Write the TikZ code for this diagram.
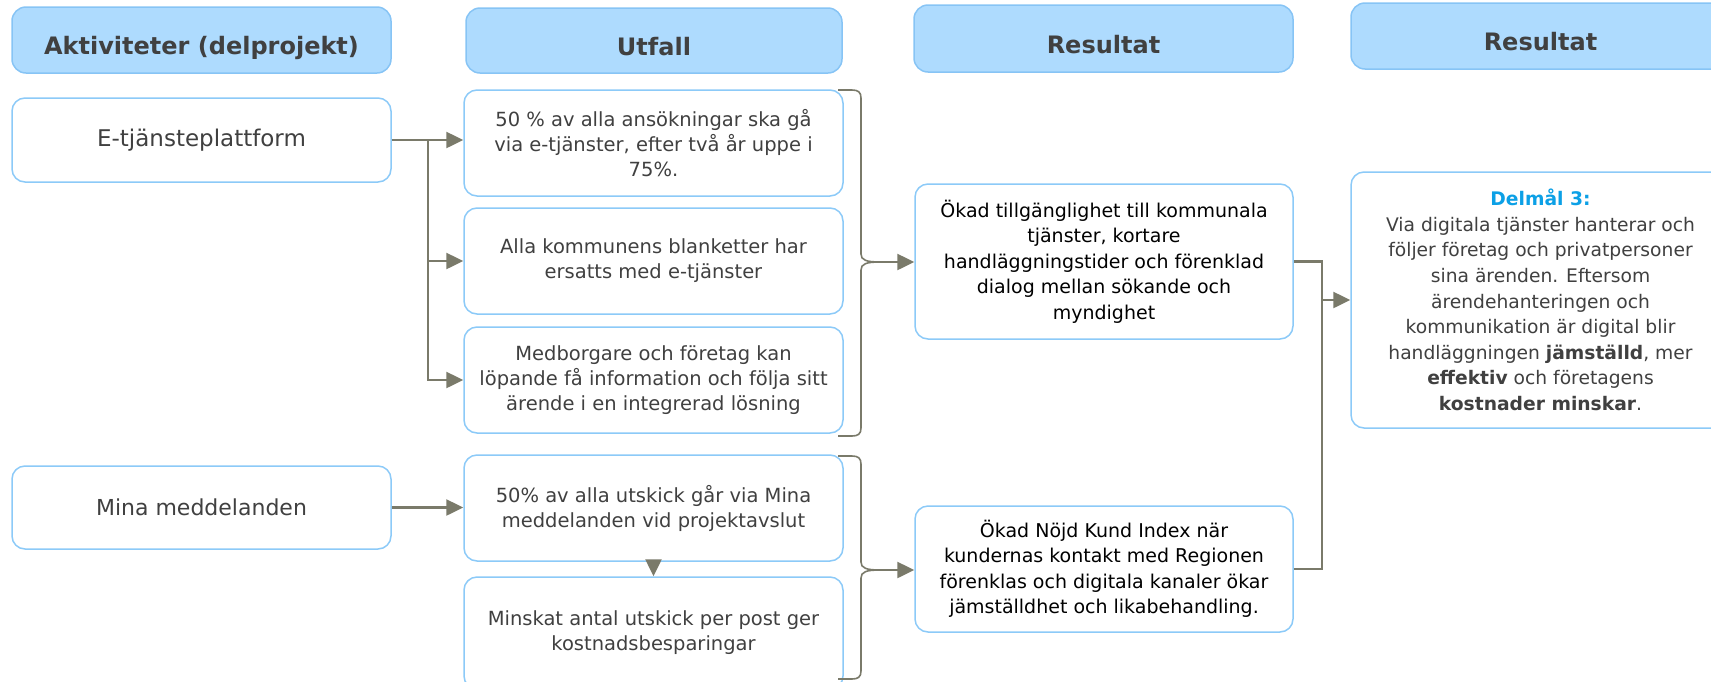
\documentclass[tikz,border=0pt]{standalone}
\usepackage{fontspec}
\setmainfont{DejaVu Sans}
\usetikzlibrary{arrows.meta}
\definecolor{hdrfill}{RGB}{174,219,254}
\definecolor{hdrline}{RGB}{135,196,245}
\definecolor{boxline}{RGB}{140,202,248}
\definecolor{connc}{RGB}{122,122,106}
\definecolor{txt}{RGB}{64,64,64}
\definecolor{dmblue}{RGB}{12,160,230}
\tikzset{
 hdr/.style={draw=hdrline, line width=1.5pt, fill=hdrfill, rounded corners=14pt, text=txt, font=\fontsize{24}{29}\selectfont\bfseries, align=center, inner sep=0pt, text height=29pt, text depth=0pt},
 box/.style={draw=boxline, line width=1.5pt, fill=white, rounded corners=13pt, text=txt, align=center, inner sep=0pt, font=\fontsize{19.5}{25}\selectfont},
 actbox/.style={box, font=\fontsize{22}{27}\selectfont},
 resbox/.style={box, text=black, font=\fontsize{19}{25.5}\selectfont},
 conn/.style={draw=connc, line width=2.5pt},
 arr/.style={conn, -{Triangle[length=17pt,width=16pt]}},
 brace/.style={draw=connc, line width=1.6pt},
}
\begin{document}
\begin{tikzpicture}[x=1pt,y=-1pt]
\useasboundingbox (0,0) rectangle (1711,681);
\clip (0,0) rectangle (1711,681);
% headers
\node[hdr, minimum width=379pt, minimum height=66pt] (h1) at (201.5,40) {Aktiviteter (delprojekt)};
\node[hdr, minimum width=376pt, minimum height=65pt] (h2) at (654,40.5) {Utfall};
\node[hdr, minimum width=379pt, minimum height=67pt] (h3) at (1103.5,38.5) {Resultat};
\node[hdr, minimum width=379pt, minimum height=66pt] (h4) at (1540.5,36) {Resultat};
% activities
\node[actbox, font=\fontsize{23}{27}\selectfont, minimum width=379pt, minimum height=84pt] (et) at (201.5,140) {E-tjänsteplattform};
\node[actbox, minimum width=379pt, minimum height=83pt] (mina) at (201.5,507.5) {Mina meddelanden};
% outcomes
\node[box, minimum width=379pt, minimum height=106pt] (u1) at (653.5,143) {50 \% av alla ansökningar ska gå\\via e-tjänster, efter två år uppe i\\75\%.};
\node[box, minimum width=379pt, minimum height=106pt] (u2) at (653.5,261) {Alla kommunens blanketter har\\ersatts med e-tjänster};
\node[box, minimum width=379pt, minimum height=106pt] (u3) at (653.5,380) {Medborgare och företag kan\\löpande få information och följa sitt\\ärende i en integrerad lösning};
\node[box, minimum width=379pt, minimum height=106pt] (m1) at (653.5,508) {50\% av alla utskick går via Mina\\meddelanden vid projektavslut};
\node[box, minimum width=379pt, minimum height=112pt] (m2) at (653.5,633) {Minskat antal utskick per post ger\\kostnadsbesparingar};
% results
\node[resbox, minimum width=378pt, minimum height=155pt] (ok1) at (1104,261.5) {Ökad tillgänglighet till kommunala\\tjänster, kortare\\handläggningstider och förenklad\\dialog mellan sökande och\\myndighet};
\node[resbox, minimum width=378pt, minimum height=126pt] (ok2) at (1104,569) {Ökad Nöjd Kund Index när\\kundernas kontakt med Regionen\\förenklas och digitala kanaler ökar\\jämställdhet och likabehandling.};
\node[box, font=\fontsize{18.7}{25.6}\selectfont, minimum width=379pt, minimum height=256pt] (dm) at (1540.5,300) {{\bfseries\color{dmblue}Delmål 3:}\\Via digitala tjänster hanterar och\\följer företag och privatpersoner\\sina ärenden. Eftersom\\ärendehanteringen och\\kommunikation är digital blir\\handläggningen \textbf{jämställd}, mer\\\textbf{effektiv} och företagens\\\textbf{kostnader minskar}.};
% connectors from activities
\coordinate (j) at (428,140);
\draw[arr] (et.east) -- (et.east -| u1.west);
\draw[arr] (j) |- (u2.west);
\draw[arr] (j) |- (u3.west);
\draw[arr] (mina.east) -- (mina.east -| m1.west);
\draw[arr] (m1.south) -- (m2.north);
% braces
\coordinate (b1) at (880,262);
\coordinate (b2) at (880,570);
\draw[brace] (838,90) -- (852,90) .. controls (858,90) and (861,92) .. (861,98) -- (861,254) .. controls (861,260) and (866,262) .. (b1) .. controls (866,262) and (861,264) .. (861,270) -- (861,428) .. controls (861,434) and (858,436) .. (852,436) -- (838,436);
\draw[brace] (838,456) -- (852,456) .. controls (858,456) and (861,458) .. (861,464) -- (861,562) .. controls (861,568) and (866,570) .. (b2) .. controls (866,570) and (861,572) .. (861,578) -- (861,671) .. controls (861,677) and (858,679) .. (852,679) -- (838,679);
\draw[arr] (b1) -- (b1 -| ok1.west);
\draw[arr] (b2) -- (b2 -| ok2.west);
% to goal
\coordinate (r) at (1322,300);
\draw[conn] (ok1.east) -| (r);
\draw[conn] (ok2.east) -| (r);
\draw[arr] (r) -- (r -| dm.west);
\end{tikzpicture}
\end{document}
